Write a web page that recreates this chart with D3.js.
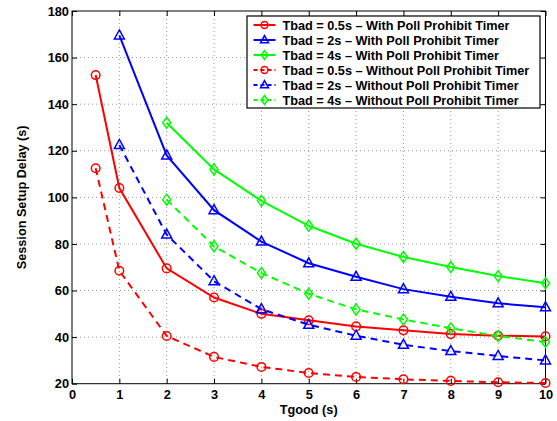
<!DOCTYPE html>
<html>
<head>
<meta charset="utf-8">
<script src="https://cdn.jsdelivr.net/npm/d3@7"></script>
<style>
  body { margin: 0; background: #fff; }
  svg text { font-family: "Liberation Sans", Arial, sans-serif; font-weight: bold; }
</style>
</head>
<body>
<div id="chart"></div>
<script>
const xTicks = [0, 1, 2, 3, 4, 5, 6, 7, 8, 9, 10];
const yTicks = [20, 40, 60, 80, 100, 120, 140, 160, 180];

const tgoodRed = [0.5, 1, 2, 3, 4, 5, 6, 7, 8, 9, 10];
const tgood = [1, 2, 3, 4, 5, 6, 7, 8, 9, 10];
const tgoodGreen = [2, 3, 4, 5, 6, 7, 8, 9, 10];

const redWith = [152.5, 104, 69.5, 57, 50, 47.2, 44.6, 42.9, 41.3, 40.6, 40.3];
const blueWith = [169.5, 118, 94.5, 81, 71.7, 65.9, 60.6, 57.3, 54.5, 52.8];
const greenWith = [132, 112, 98.5, 87.8, 80.1, 74.4, 70.1, 66.2, 63.1];
const redWithout = [112.5, 68.5, 40.5, 31.5, 27.2, 24.6, 22.9, 21.9, 21.2, 20.6, 20.3];
const blueWithout = [122.5, 84, 64, 52, 45.3, 40.6, 36.7, 34, 31.9, 30];
const greenWithout = [99, 79, 67.5, 58.6, 51.9, 47.6, 43.8, 40.5, 37.9];

const series = [
  { name: "Tbad = 0.5s \u2013 With Poll Prohibit Timer", x: tgoodRed, y: redWith, color: "#ff0000", marker: "circle", dashed: false },
  { name: "Tbad = 2s \u2013 With Poll Prohibit Timer", x: tgood, y: blueWith, color: "#0000ff", marker: "triangle", dashed: false },
  { name: "Tbad = 4s \u2013 With Poll Prohibit Timer", x: tgoodGreen, y: greenWith, color: "#00ff00", marker: "diamond", dashed: false },
  { name: "Tbad = 0.5s \u2013 Without Poll Prohibit Timer", x: tgoodRed, y: redWithout, color: "#ff0000", marker: "circle", dashed: true },
  { name: "Tbad = 2s \u2013 Without Poll Prohibit Timer", x: tgood, y: blueWithout, color: "#0000ff", marker: "triangle", dashed: true },
  { name: "Tbad = 4s \u2013 Without Poll Prohibit Timer", x: tgoodGreen, y: greenWithout, color: "#00ff00", marker: "diamond", dashed: true }
];

const width = 557, height = 421;
const margin = { top: 11, right: 11.5, bottom: 37.3, left: 72 };
const innerW = width - margin.left - margin.right;
const innerH = height - margin.top - margin.bottom;

const svg = d3.select("#chart").append("svg").attr("width", width).attr("height", height);
const g = svg.append("g").attr("transform", `translate(${margin.left},${margin.top})`);

const x = d3.scaleLinear().domain([0, 10]).range([0, innerW]);
const y = d3.scaleLinear().domain([20, 180]).range([innerH, 0]);

// grid
g.append("g").selectAll("line").data(xTicks.slice(1, -1)).join("line")
  .attr("x1", d => x(d)).attr("x2", d => x(d)).attr("y1", 0).attr("y2", innerH)
  .attr("stroke", "#999").attr("stroke-width", 1).attr("stroke-dasharray", "1,3");
g.append("g").selectAll("line").data(yTicks.slice(1, -1)).join("line")
  .attr("y1", d => y(d)).attr("y2", d => y(d)).attr("x1", 0).attr("x2", innerW)
  .attr("stroke", "#999").attr("stroke-width", 1).attr("stroke-dasharray", "1,3");

// axes with inward ticks
const axisFont = sel => sel.selectAll("text").attr("font-size", 12.8).attr("fill", "#000");
const xb = g.append("g").attr("transform", `translate(0,${innerH})`)
  .call(d3.axisBottom(x).tickValues(xTicks).tickSizeInner(-5).tickSizeOuter(0).tickPadding(6));
const yl = g.append("g")
  .call(d3.axisLeft(y).tickValues(yTicks).tickSizeInner(-5).tickSizeOuter(0).tickPadding(3));
const xt = g.append("g")
  .call(d3.axisTop(x).tickValues(xTicks).tickSizeInner(-5).tickSizeOuter(0).tickFormat(""));
const yr = g.append("g").attr("transform", `translate(${innerW},0)`)
  .call(d3.axisRight(y).tickValues(yTicks).tickSizeInner(-5).tickSizeOuter(0).tickFormat(""));
[xb, yl, xt, yr].forEach(a => {
  axisFont(a);
  a.select(".domain").remove();
  a.selectAll("line").attr("stroke", "#000");
});
g.append("rect").attr("width", innerW).attr("height", innerH)
  .attr("fill", "none").attr("stroke", "#000").attr("stroke-width", 1);

function drawMarker(sel, type, color, k) {
  if (type === "circle") {
    sel.append("circle").attr("r", 4.3 * k).attr("fill", "none").attr("stroke", color).attr("stroke-width", 1.5);
  } else if (type === "triangle") {
    sel.append("path").attr("d", `M0,${-5.5 * k}L${5 * k},${3.5 * k}L${-5 * k},${3.5 * k}Z`)
      .attr("fill", "none").attr("stroke", color).attr("stroke-width", 1.5);
  } else {
    sel.append("path").attr("d", `M0,${-5.5 * k}L${4 * k},0L0,${5.5 * k}L${-4 * k},0Z`)
      .attr("fill", "none").attr("stroke", color).attr("stroke-width", 1.5);
  }
}

const line = d3.line().x(d => x(d[0])).y(d => y(d[1]));

series.forEach(s => {
  const pts = s.x.map((v, i) => [v, s.y[i]]);
  g.append("path").datum(pts).attr("d", line)
    .attr("fill", "none").attr("stroke", s.color).attr("stroke-width", 2)
    .attr("stroke-dasharray", s.dashed ? "7,5" : null);
  g.append("g").selectAll("g").data(pts).join("g")
    .attr("transform", d => `translate(${x(d[0])},${y(d[1])})`)
    .each(function () { drawMarker(d3.select(this), s.marker, s.color, 1); });
});

// legend
const lg = svg.append("g").attr("transform", "translate(247,16)");
lg.append("rect").attr("width", 293).attr("height", 92)
  .attr("fill", "#fff").attr("stroke", "#000").attr("stroke-width", 1.2);
series.forEach((s, i) => {
  const row = lg.append("g").attr("transform", `translate(0,${9 + i * 15})`);
  row.append("line").attr("x1", 6.5).attr("x2", 28.5).attr("y1", 0).attr("y2", 0)
    .attr("stroke", s.color).attr("stroke-width", 2)
    .attr("stroke-dasharray", s.dashed ? "4,3" : null);
  drawMarker(row.append("g").attr("transform", "translate(17.5,0)"), s.marker, s.color, 0.8);
  row.append("text").attr("x", 35.5).attr("y", 4.6).attr("font-size", 12.7).text(s.name);
});

// axis titles
svg.append("text").attr("x", margin.left + x(5)).attr("y", 414)
  .attr("text-anchor", "middle").attr("font-size", 12.7).text("Tgood (s)");
svg.append("text").attr("transform", `translate(26,${margin.top + innerH / 2}) rotate(-90)`)
  .attr("text-anchor", "middle").attr("font-size", 12.7).text("Session Setup Delay (s)");
</script>
</body>
</html>
